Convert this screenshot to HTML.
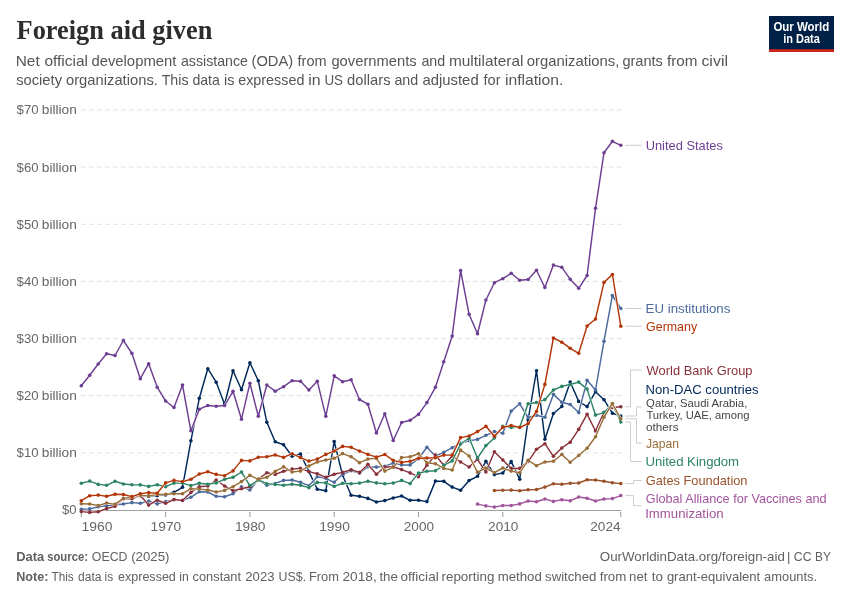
<!DOCTYPE html>
<html lang="en"><head><meta charset="utf-8"><title>Foreign aid given</title>
<style>
html,body{margin:0;padding:0;background:#fff;}
body{width:850px;height:600px;overflow:hidden;font-family:"Liberation Sans",sans-serif;}
svg{display:block;}
svg text{font-family:"Liberation Sans",sans-serif;}
</style></head>
<body>
<svg width="850" height="600" viewBox="0 0 850 600">
<rect width="850" height="600" fill="#fff"/>
<rect x="769" y="16" width="65" height="36" fill="#002147"/>
<rect x="769" y="49.2" width="65" height="2.8" fill="#ce261e"/>
<g stroke="#ddd" stroke-width="1" stroke-dasharray="4.2,3.8"><line x1="81.3" x2="621.3" y1="452.9" y2="452.9"/><line x1="81.3" x2="621.3" y1="395.7" y2="395.7"/><line x1="81.3" x2="621.3" y1="338.6" y2="338.6"/><line x1="81.3" x2="621.3" y1="281.4" y2="281.4"/><line x1="81.3" x2="621.3" y1="224.3" y2="224.3"/><line x1="81.3" x2="621.3" y1="167.2" y2="167.2"/><line x1="81.3" x2="621.3" y1="110.0" y2="110.0"/></g>
<line x1="81.3" x2="621.3" y1="510.5" y2="510.5" stroke="#a0a0a0" stroke-width="1"/>
<g stroke="#999" stroke-width="1"><line x1="81.3" x2="81.3" y1="512" y2="517"/><line x1="165.6" x2="165.6" y1="512" y2="517"/><line x1="249.9" x2="249.9" y1="512" y2="517"/><line x1="334.2" x2="334.2" y1="512" y2="517"/><line x1="418.5" x2="418.5" y1="512" y2="517"/><line x1="502.8" x2="502.8" y1="512" y2="517"/><line x1="620.8" x2="620.8" y1="512" y2="517"/></g>
<g fill="#A2559C" stroke="#A2559C"><polyline fill="none" stroke="#fff" stroke-width="2.45" stroke-linejoin="round" stroke-linecap="round" points="477.5,504.1 485.9,505.9 494.4,507.1 502.8,505.5 511.2,505.5 519.7,503.9 528.1,501.0 536.5,501.8 544.9,499.0 553.4,501.4 561.8,499.8 570.2,500.8 578.7,497.0 587.1,498.2 595.5,501.0 604.0,499.0 612.4,498.6 620.8,495.6"/><polyline fill="none" stroke-width="1.45" stroke-linejoin="round" stroke-linecap="round" points="477.5,504.1 485.9,505.9 494.4,507.1 502.8,505.5 511.2,505.5 519.7,503.9 528.1,501.0 536.5,501.8 544.9,499.0 553.4,501.4 561.8,499.8 570.2,500.8 578.7,497.0 587.1,498.2 595.5,501.0 604.0,499.0 612.4,498.6 620.8,495.6"/><g stroke="none"><circle cx="477.5" cy="504.1" r="1.8"/><circle cx="485.9" cy="505.9" r="1.8"/><circle cx="494.4" cy="507.1" r="1.8"/><circle cx="502.8" cy="505.5" r="1.8"/><circle cx="511.2" cy="505.5" r="1.8"/><circle cx="519.7" cy="503.9" r="1.8"/><circle cx="528.1" cy="501.0" r="1.8"/><circle cx="536.5" cy="501.8" r="1.8"/><circle cx="544.9" cy="499.0" r="1.8"/><circle cx="553.4" cy="501.4" r="1.8"/><circle cx="561.8" cy="499.8" r="1.8"/><circle cx="570.2" cy="500.8" r="1.8"/><circle cx="578.7" cy="497.0" r="1.8"/><circle cx="587.1" cy="498.2" r="1.8"/><circle cx="595.5" cy="501.0" r="1.8"/><circle cx="604.0" cy="499.0" r="1.8"/><circle cx="612.4" cy="498.6" r="1.8"/><circle cx="620.8" cy="495.6" r="1.8"/></g></g>
<g fill="#9A5129" stroke="#9A5129"><polyline fill="none" stroke="#fff" stroke-width="2.45" stroke-linejoin="round" stroke-linecap="round" points="494.4,490.5 502.8,490.3 511.2,490.1 519.7,490.7 528.1,489.7 536.5,489.5 544.9,487.1 553.4,483.8 561.8,484.2 570.2,483.2 578.7,483.0 587.1,479.8 595.5,480.0 604.0,481.2 612.4,482.8 620.8,483.6"/><polyline fill="none" stroke-width="1.45" stroke-linejoin="round" stroke-linecap="round" points="494.4,490.5 502.8,490.3 511.2,490.1 519.7,490.7 528.1,489.7 536.5,489.5 544.9,487.1 553.4,483.8 561.8,484.2 570.2,483.2 578.7,483.0 587.1,479.8 595.5,480.0 604.0,481.2 612.4,482.8 620.8,483.6"/><g stroke="none"><circle cx="494.4" cy="490.5" r="1.8"/><circle cx="502.8" cy="490.3" r="1.8"/><circle cx="511.2" cy="490.1" r="1.8"/><circle cx="519.7" cy="490.7" r="1.8"/><circle cx="528.1" cy="489.7" r="1.8"/><circle cx="536.5" cy="489.5" r="1.8"/><circle cx="544.9" cy="487.1" r="1.8"/><circle cx="553.4" cy="483.8" r="1.8"/><circle cx="561.8" cy="484.2" r="1.8"/><circle cx="570.2" cy="483.2" r="1.8"/><circle cx="578.7" cy="483.0" r="1.8"/><circle cx="587.1" cy="479.8" r="1.8"/><circle cx="595.5" cy="480.0" r="1.8"/><circle cx="604.0" cy="481.2" r="1.8"/><circle cx="612.4" cy="482.8" r="1.8"/><circle cx="620.8" cy="483.6" r="1.8"/></g></g>
<g fill="#00295B" stroke="#00295B"><polyline fill="none" stroke="#fff" stroke-width="2.45" stroke-linejoin="round" stroke-linecap="round" points="131.9,497.0 140.3,496.0 148.7,496.3 157.2,495.6 165.6,495.0 174.0,492.3 182.5,487.3 190.9,440.8 199.3,398.3 207.8,368.7 216.2,382.2 224.6,404.2 233.0,370.8 241.5,389.7 249.9,362.7 258.3,380.8 266.8,422.2 275.2,441.7 283.6,444.8 292.1,456.3 300.5,454.0 308.9,471.6 317.3,489.3 325.8,490.7 334.2,441.5 342.6,475.3 351.1,495.3 359.5,496.3 367.9,498.4 376.4,502.0 384.8,500.6 393.2,498.0 401.6,496.0 410.1,500.3 418.5,500.3 426.9,501.6 435.4,481.1 443.8,481.3 452.2,487.1 460.6,490.3 469.1,480.5 477.5,476.3 485.9,461.3 494.4,474.6 502.8,473.0 511.2,461.6 519.7,479.2 528.1,420.0 536.5,370.7 544.9,439.3 553.4,413.5 561.8,406.5 570.2,382.0 578.7,401.4 587.1,406.6 595.5,391.7 604.0,399.7 612.4,413.2 620.8,416.0"/><polyline fill="none" stroke-width="1.45" stroke-linejoin="round" stroke-linecap="round" points="131.9,497.0 140.3,496.0 148.7,496.3 157.2,495.6 165.6,495.0 174.0,492.3 182.5,487.3 190.9,440.8 199.3,398.3 207.8,368.7 216.2,382.2 224.6,404.2 233.0,370.8 241.5,389.7 249.9,362.7 258.3,380.8 266.8,422.2 275.2,441.7 283.6,444.8 292.1,456.3 300.5,454.0 308.9,471.6 317.3,489.3 325.8,490.7 334.2,441.5 342.6,475.3 351.1,495.3 359.5,496.3 367.9,498.4 376.4,502.0 384.8,500.6 393.2,498.0 401.6,496.0 410.1,500.3 418.5,500.3 426.9,501.6 435.4,481.1 443.8,481.3 452.2,487.1 460.6,490.3 469.1,480.5 477.5,476.3 485.9,461.3 494.4,474.6 502.8,473.0 511.2,461.6 519.7,479.2 528.1,420.0 536.5,370.7 544.9,439.3 553.4,413.5 561.8,406.5 570.2,382.0 578.7,401.4 587.1,406.6 595.5,391.7 604.0,399.7 612.4,413.2 620.8,416.0"/><g stroke="none"><circle cx="131.9" cy="497.0" r="1.8"/><circle cx="140.3" cy="496.0" r="1.8"/><circle cx="148.7" cy="496.3" r="1.8"/><circle cx="157.2" cy="495.6" r="1.8"/><circle cx="165.6" cy="495.0" r="1.8"/><circle cx="174.0" cy="492.3" r="1.8"/><circle cx="182.5" cy="487.3" r="1.8"/><circle cx="190.9" cy="440.8" r="1.8"/><circle cx="199.3" cy="398.3" r="1.8"/><circle cx="207.8" cy="368.7" r="1.8"/><circle cx="216.2" cy="382.2" r="1.8"/><circle cx="224.6" cy="404.2" r="1.8"/><circle cx="233.0" cy="370.8" r="1.8"/><circle cx="241.5" cy="389.7" r="1.8"/><circle cx="249.9" cy="362.7" r="1.8"/><circle cx="258.3" cy="380.8" r="1.8"/><circle cx="266.8" cy="422.2" r="1.8"/><circle cx="275.2" cy="441.7" r="1.8"/><circle cx="283.6" cy="444.8" r="1.8"/><circle cx="292.1" cy="456.3" r="1.8"/><circle cx="300.5" cy="454.0" r="1.8"/><circle cx="308.9" cy="471.6" r="1.8"/><circle cx="317.3" cy="489.3" r="1.8"/><circle cx="325.8" cy="490.7" r="1.8"/><circle cx="334.2" cy="441.5" r="1.8"/><circle cx="342.6" cy="475.3" r="1.8"/><circle cx="351.1" cy="495.3" r="1.8"/><circle cx="359.5" cy="496.3" r="1.8"/><circle cx="367.9" cy="498.4" r="1.8"/><circle cx="376.4" cy="502.0" r="1.8"/><circle cx="384.8" cy="500.6" r="1.8"/><circle cx="393.2" cy="498.0" r="1.8"/><circle cx="401.6" cy="496.0" r="1.8"/><circle cx="410.1" cy="500.3" r="1.8"/><circle cx="418.5" cy="500.3" r="1.8"/><circle cx="426.9" cy="501.6" r="1.8"/><circle cx="435.4" cy="481.1" r="1.8"/><circle cx="443.8" cy="481.3" r="1.8"/><circle cx="452.2" cy="487.1" r="1.8"/><circle cx="460.6" cy="490.3" r="1.8"/><circle cx="469.1" cy="480.5" r="1.8"/><circle cx="477.5" cy="476.3" r="1.8"/><circle cx="485.9" cy="461.3" r="1.8"/><circle cx="494.4" cy="474.6" r="1.8"/><circle cx="502.8" cy="473.0" r="1.8"/><circle cx="511.2" cy="461.6" r="1.8"/><circle cx="519.7" cy="479.2" r="1.8"/><circle cx="528.1" cy="420.0" r="1.8"/><circle cx="536.5" cy="370.7" r="1.8"/><circle cx="544.9" cy="439.3" r="1.8"/><circle cx="553.4" cy="413.5" r="1.8"/><circle cx="561.8" cy="406.5" r="1.8"/><circle cx="570.2" cy="382.0" r="1.8"/><circle cx="578.7" cy="401.4" r="1.8"/><circle cx="587.1" cy="406.6" r="1.8"/><circle cx="595.5" cy="391.7" r="1.8"/><circle cx="604.0" cy="399.7" r="1.8"/><circle cx="612.4" cy="413.2" r="1.8"/><circle cx="620.8" cy="416.0" r="1.8"/></g></g>
<g fill="#4C6A9C" stroke="#4C6A9C"><polyline fill="none" stroke="#fff" stroke-width="2.45" stroke-linejoin="round" stroke-linecap="round" points="81.3,509.3 89.7,508.9 98.2,506.7 106.6,505.8 115.0,505.0 123.4,504.0 131.9,502.6 140.3,503.2 148.7,501.1 157.2,503.9 165.6,501.6 174.0,499.8 182.5,500.3 190.9,497.3 199.3,491.7 207.8,492.0 216.2,496.3 224.6,496.7 233.0,493.7 241.5,486.7 249.9,490.0 258.3,479.7 266.8,485.3 275.2,483.5 283.6,480.4 292.1,480.0 300.5,482.3 308.9,485.7 317.3,476.7 325.8,478.3 334.2,482.3 342.6,474.3 351.1,470.7 359.5,473.1 367.9,466.7 376.4,467.1 384.8,466.2 393.2,463.1 401.6,464.9 410.1,464.9 418.5,458.7 426.9,447.3 435.4,456.0 443.8,452.4 452.2,447.7 460.6,443.3 469.1,440.7 477.5,439.4 485.9,435.3 494.4,431.6 502.8,433.2 511.2,411.1 519.7,403.8 528.1,417.5 536.5,415.3 544.9,417.2 553.4,394.4 561.8,402.3 570.2,404.5 578.7,412.6 587.1,380.2 595.5,390.0 604.0,341.2 612.4,295.5 620.8,308.5"/><polyline fill="none" stroke-width="1.45" stroke-linejoin="round" stroke-linecap="round" points="81.3,509.3 89.7,508.9 98.2,506.7 106.6,505.8 115.0,505.0 123.4,504.0 131.9,502.6 140.3,503.2 148.7,501.1 157.2,503.9 165.6,501.6 174.0,499.8 182.5,500.3 190.9,497.3 199.3,491.7 207.8,492.0 216.2,496.3 224.6,496.7 233.0,493.7 241.5,486.7 249.9,490.0 258.3,479.7 266.8,485.3 275.2,483.5 283.6,480.4 292.1,480.0 300.5,482.3 308.9,485.7 317.3,476.7 325.8,478.3 334.2,482.3 342.6,474.3 351.1,470.7 359.5,473.1 367.9,466.7 376.4,467.1 384.8,466.2 393.2,463.1 401.6,464.9 410.1,464.9 418.5,458.7 426.9,447.3 435.4,456.0 443.8,452.4 452.2,447.7 460.6,443.3 469.1,440.7 477.5,439.4 485.9,435.3 494.4,431.6 502.8,433.2 511.2,411.1 519.7,403.8 528.1,417.5 536.5,415.3 544.9,417.2 553.4,394.4 561.8,402.3 570.2,404.5 578.7,412.6 587.1,380.2 595.5,390.0 604.0,341.2 612.4,295.5 620.8,308.5"/><g stroke="none"><circle cx="81.3" cy="509.3" r="1.8"/><circle cx="89.7" cy="508.9" r="1.8"/><circle cx="98.2" cy="506.7" r="1.8"/><circle cx="106.6" cy="505.8" r="1.8"/><circle cx="115.0" cy="505.0" r="1.8"/><circle cx="123.4" cy="504.0" r="1.8"/><circle cx="131.9" cy="502.6" r="1.8"/><circle cx="140.3" cy="503.2" r="1.8"/><circle cx="148.7" cy="501.1" r="1.8"/><circle cx="157.2" cy="503.9" r="1.8"/><circle cx="165.6" cy="501.6" r="1.8"/><circle cx="174.0" cy="499.8" r="1.8"/><circle cx="182.5" cy="500.3" r="1.8"/><circle cx="190.9" cy="497.3" r="1.8"/><circle cx="199.3" cy="491.7" r="1.8"/><circle cx="207.8" cy="492.0" r="1.8"/><circle cx="216.2" cy="496.3" r="1.8"/><circle cx="224.6" cy="496.7" r="1.8"/><circle cx="233.0" cy="493.7" r="1.8"/><circle cx="241.5" cy="486.7" r="1.8"/><circle cx="249.9" cy="490.0" r="1.8"/><circle cx="258.3" cy="479.7" r="1.8"/><circle cx="266.8" cy="485.3" r="1.8"/><circle cx="275.2" cy="483.5" r="1.8"/><circle cx="283.6" cy="480.4" r="1.8"/><circle cx="292.1" cy="480.0" r="1.8"/><circle cx="300.5" cy="482.3" r="1.8"/><circle cx="308.9" cy="485.7" r="1.8"/><circle cx="317.3" cy="476.7" r="1.8"/><circle cx="325.8" cy="478.3" r="1.8"/><circle cx="334.2" cy="482.3" r="1.8"/><circle cx="342.6" cy="474.3" r="1.8"/><circle cx="351.1" cy="470.7" r="1.8"/><circle cx="359.5" cy="473.1" r="1.8"/><circle cx="367.9" cy="466.7" r="1.8"/><circle cx="376.4" cy="467.1" r="1.8"/><circle cx="384.8" cy="466.2" r="1.8"/><circle cx="393.2" cy="463.1" r="1.8"/><circle cx="401.6" cy="464.9" r="1.8"/><circle cx="410.1" cy="464.9" r="1.8"/><circle cx="418.5" cy="458.7" r="1.8"/><circle cx="426.9" cy="447.3" r="1.8"/><circle cx="435.4" cy="456.0" r="1.8"/><circle cx="443.8" cy="452.4" r="1.8"/><circle cx="452.2" cy="447.7" r="1.8"/><circle cx="460.6" cy="443.3" r="1.8"/><circle cx="469.1" cy="440.7" r="1.8"/><circle cx="477.5" cy="439.4" r="1.8"/><circle cx="485.9" cy="435.3" r="1.8"/><circle cx="494.4" cy="431.6" r="1.8"/><circle cx="502.8" cy="433.2" r="1.8"/><circle cx="511.2" cy="411.1" r="1.8"/><circle cx="519.7" cy="403.8" r="1.8"/><circle cx="528.1" cy="417.5" r="1.8"/><circle cx="536.5" cy="415.3" r="1.8"/><circle cx="544.9" cy="417.2" r="1.8"/><circle cx="553.4" cy="394.4" r="1.8"/><circle cx="561.8" cy="402.3" r="1.8"/><circle cx="570.2" cy="404.5" r="1.8"/><circle cx="578.7" cy="412.6" r="1.8"/><circle cx="587.1" cy="380.2" r="1.8"/><circle cx="595.5" cy="390.0" r="1.8"/><circle cx="604.0" cy="341.2" r="1.8"/><circle cx="612.4" cy="295.5" r="1.8"/><circle cx="620.8" cy="308.5" r="1.8"/></g></g>
<g fill="#883039" stroke="#883039"><polyline fill="none" stroke="#fff" stroke-width="2.45" stroke-linejoin="round" stroke-linecap="round" points="81.3,511.6 89.7,512.4 98.2,511.7 106.6,508.6 115.0,506.2 123.4,498.8 131.9,498.8 140.3,495.6 148.7,505.1 157.2,500.2 165.6,503.3 174.0,499.5 182.5,500.5 190.9,492.4 199.3,486.7 207.8,486.0 216.2,480.0 224.6,486.0 233.0,490.7 241.5,488.7 249.9,486.7 258.3,479.3 266.8,472.7 275.2,474.4 283.6,471.2 292.1,469.1 300.5,468.3 308.9,471.6 317.3,473.7 325.8,477.3 334.2,474.3 342.6,472.4 351.1,469.7 359.5,472.4 367.9,464.4 376.4,474.3 384.8,467.0 393.2,466.7 401.6,469.6 410.1,472.9 418.5,476.7 426.9,465.3 435.4,455.1 443.8,465.3 452.2,456.0 460.6,462.0 469.1,467.0 477.5,459.3 485.9,472.0 494.4,451.7 502.8,460.0 511.2,468.4 519.7,468.4 528.1,461.6 536.5,449.3 544.9,443.7 553.4,456.3 561.8,448.0 570.2,442.2 578.7,429.3 587.1,414.2 595.5,431.0 604.0,412.3 612.4,407.5 620.8,406.8"/><polyline fill="none" stroke-width="1.45" stroke-linejoin="round" stroke-linecap="round" points="81.3,511.6 89.7,512.4 98.2,511.7 106.6,508.6 115.0,506.2 123.4,498.8 131.9,498.8 140.3,495.6 148.7,505.1 157.2,500.2 165.6,503.3 174.0,499.5 182.5,500.5 190.9,492.4 199.3,486.7 207.8,486.0 216.2,480.0 224.6,486.0 233.0,490.7 241.5,488.7 249.9,486.7 258.3,479.3 266.8,472.7 275.2,474.4 283.6,471.2 292.1,469.1 300.5,468.3 308.9,471.6 317.3,473.7 325.8,477.3 334.2,474.3 342.6,472.4 351.1,469.7 359.5,472.4 367.9,464.4 376.4,474.3 384.8,467.0 393.2,466.7 401.6,469.6 410.1,472.9 418.5,476.7 426.9,465.3 435.4,455.1 443.8,465.3 452.2,456.0 460.6,462.0 469.1,467.0 477.5,459.3 485.9,472.0 494.4,451.7 502.8,460.0 511.2,468.4 519.7,468.4 528.1,461.6 536.5,449.3 544.9,443.7 553.4,456.3 561.8,448.0 570.2,442.2 578.7,429.3 587.1,414.2 595.5,431.0 604.0,412.3 612.4,407.5 620.8,406.8"/><g stroke="none"><circle cx="81.3" cy="511.6" r="1.8"/><circle cx="89.7" cy="512.4" r="1.8"/><circle cx="98.2" cy="511.7" r="1.8"/><circle cx="106.6" cy="508.6" r="1.8"/><circle cx="115.0" cy="506.2" r="1.8"/><circle cx="123.4" cy="498.8" r="1.8"/><circle cx="131.9" cy="498.8" r="1.8"/><circle cx="140.3" cy="495.6" r="1.8"/><circle cx="148.7" cy="505.1" r="1.8"/><circle cx="157.2" cy="500.2" r="1.8"/><circle cx="165.6" cy="503.3" r="1.8"/><circle cx="174.0" cy="499.5" r="1.8"/><circle cx="182.5" cy="500.5" r="1.8"/><circle cx="190.9" cy="492.4" r="1.8"/><circle cx="199.3" cy="486.7" r="1.8"/><circle cx="207.8" cy="486.0" r="1.8"/><circle cx="216.2" cy="480.0" r="1.8"/><circle cx="224.6" cy="486.0" r="1.8"/><circle cx="233.0" cy="490.7" r="1.8"/><circle cx="241.5" cy="488.7" r="1.8"/><circle cx="249.9" cy="486.7" r="1.8"/><circle cx="258.3" cy="479.3" r="1.8"/><circle cx="266.8" cy="472.7" r="1.8"/><circle cx="275.2" cy="474.4" r="1.8"/><circle cx="283.6" cy="471.2" r="1.8"/><circle cx="292.1" cy="469.1" r="1.8"/><circle cx="300.5" cy="468.3" r="1.8"/><circle cx="308.9" cy="471.6" r="1.8"/><circle cx="317.3" cy="473.7" r="1.8"/><circle cx="325.8" cy="477.3" r="1.8"/><circle cx="334.2" cy="474.3" r="1.8"/><circle cx="342.6" cy="472.4" r="1.8"/><circle cx="351.1" cy="469.7" r="1.8"/><circle cx="359.5" cy="472.4" r="1.8"/><circle cx="367.9" cy="464.4" r="1.8"/><circle cx="376.4" cy="474.3" r="1.8"/><circle cx="384.8" cy="467.0" r="1.8"/><circle cx="393.2" cy="466.7" r="1.8"/><circle cx="401.6" cy="469.6" r="1.8"/><circle cx="410.1" cy="472.9" r="1.8"/><circle cx="418.5" cy="476.7" r="1.8"/><circle cx="426.9" cy="465.3" r="1.8"/><circle cx="435.4" cy="455.1" r="1.8"/><circle cx="443.8" cy="465.3" r="1.8"/><circle cx="452.2" cy="456.0" r="1.8"/><circle cx="460.6" cy="462.0" r="1.8"/><circle cx="469.1" cy="467.0" r="1.8"/><circle cx="477.5" cy="459.3" r="1.8"/><circle cx="485.9" cy="472.0" r="1.8"/><circle cx="494.4" cy="451.7" r="1.8"/><circle cx="502.8" cy="460.0" r="1.8"/><circle cx="511.2" cy="468.4" r="1.8"/><circle cx="519.7" cy="468.4" r="1.8"/><circle cx="528.1" cy="461.6" r="1.8"/><circle cx="536.5" cy="449.3" r="1.8"/><circle cx="544.9" cy="443.7" r="1.8"/><circle cx="553.4" cy="456.3" r="1.8"/><circle cx="561.8" cy="448.0" r="1.8"/><circle cx="570.2" cy="442.2" r="1.8"/><circle cx="578.7" cy="429.3" r="1.8"/><circle cx="587.1" cy="414.2" r="1.8"/><circle cx="595.5" cy="431.0" r="1.8"/><circle cx="604.0" cy="412.3" r="1.8"/><circle cx="612.4" cy="407.5" r="1.8"/><circle cx="620.8" cy="406.8" r="1.8"/></g></g>
<g fill="#2C8465" stroke="#2C8465"><polyline fill="none" stroke="#fff" stroke-width="2.45" stroke-linejoin="round" stroke-linecap="round" points="81.3,483.3 89.7,481.1 98.2,484.4 106.6,485.3 115.0,481.3 123.4,484.0 131.9,484.7 140.3,484.9 148.7,486.4 157.2,484.7 165.6,486.7 174.0,483.1 182.5,483.1 190.9,485.6 199.3,483.3 207.8,484.3 216.2,482.9 224.6,479.3 233.0,477.3 241.5,472.0 249.9,485.6 258.3,480.0 266.8,483.7 275.2,484.4 283.6,485.3 292.1,484.3 300.5,485.3 308.9,487.6 317.3,482.4 325.8,482.9 334.2,486.4 342.6,483.3 351.1,483.7 359.5,483.1 367.9,481.3 376.4,482.9 384.8,483.7 393.2,483.1 401.6,480.4 410.1,483.6 418.5,473.1 426.9,471.3 435.4,470.7 443.8,465.3 452.2,460.9 460.6,444.0 469.1,438.0 477.5,458.0 485.9,445.6 494.4,438.0 502.8,426.3 511.2,427.5 519.7,427.2 528.1,403.7 536.5,402.5 544.9,399.6 553.4,390.0 561.8,386.4 570.2,384.5 578.7,382.1 587.1,389.1 595.5,415.1 604.0,412.6 612.4,404.0 620.8,422.0"/><polyline fill="none" stroke-width="1.45" stroke-linejoin="round" stroke-linecap="round" points="81.3,483.3 89.7,481.1 98.2,484.4 106.6,485.3 115.0,481.3 123.4,484.0 131.9,484.7 140.3,484.9 148.7,486.4 157.2,484.7 165.6,486.7 174.0,483.1 182.5,483.1 190.9,485.6 199.3,483.3 207.8,484.3 216.2,482.9 224.6,479.3 233.0,477.3 241.5,472.0 249.9,485.6 258.3,480.0 266.8,483.7 275.2,484.4 283.6,485.3 292.1,484.3 300.5,485.3 308.9,487.6 317.3,482.4 325.8,482.9 334.2,486.4 342.6,483.3 351.1,483.7 359.5,483.1 367.9,481.3 376.4,482.9 384.8,483.7 393.2,483.1 401.6,480.4 410.1,483.6 418.5,473.1 426.9,471.3 435.4,470.7 443.8,465.3 452.2,460.9 460.6,444.0 469.1,438.0 477.5,458.0 485.9,445.6 494.4,438.0 502.8,426.3 511.2,427.5 519.7,427.2 528.1,403.7 536.5,402.5 544.9,399.6 553.4,390.0 561.8,386.4 570.2,384.5 578.7,382.1 587.1,389.1 595.5,415.1 604.0,412.6 612.4,404.0 620.8,422.0"/><g stroke="none"><circle cx="81.3" cy="483.3" r="1.8"/><circle cx="89.7" cy="481.1" r="1.8"/><circle cx="98.2" cy="484.4" r="1.8"/><circle cx="106.6" cy="485.3" r="1.8"/><circle cx="115.0" cy="481.3" r="1.8"/><circle cx="123.4" cy="484.0" r="1.8"/><circle cx="131.9" cy="484.7" r="1.8"/><circle cx="140.3" cy="484.9" r="1.8"/><circle cx="148.7" cy="486.4" r="1.8"/><circle cx="157.2" cy="484.7" r="1.8"/><circle cx="165.6" cy="486.7" r="1.8"/><circle cx="174.0" cy="483.1" r="1.8"/><circle cx="182.5" cy="483.1" r="1.8"/><circle cx="190.9" cy="485.6" r="1.8"/><circle cx="199.3" cy="483.3" r="1.8"/><circle cx="207.8" cy="484.3" r="1.8"/><circle cx="216.2" cy="482.9" r="1.8"/><circle cx="224.6" cy="479.3" r="1.8"/><circle cx="233.0" cy="477.3" r="1.8"/><circle cx="241.5" cy="472.0" r="1.8"/><circle cx="249.9" cy="485.6" r="1.8"/><circle cx="258.3" cy="480.0" r="1.8"/><circle cx="266.8" cy="483.7" r="1.8"/><circle cx="275.2" cy="484.4" r="1.8"/><circle cx="283.6" cy="485.3" r="1.8"/><circle cx="292.1" cy="484.3" r="1.8"/><circle cx="300.5" cy="485.3" r="1.8"/><circle cx="308.9" cy="487.6" r="1.8"/><circle cx="317.3" cy="482.4" r="1.8"/><circle cx="325.8" cy="482.9" r="1.8"/><circle cx="334.2" cy="486.4" r="1.8"/><circle cx="342.6" cy="483.3" r="1.8"/><circle cx="351.1" cy="483.7" r="1.8"/><circle cx="359.5" cy="483.1" r="1.8"/><circle cx="367.9" cy="481.3" r="1.8"/><circle cx="376.4" cy="482.9" r="1.8"/><circle cx="384.8" cy="483.7" r="1.8"/><circle cx="393.2" cy="483.1" r="1.8"/><circle cx="401.6" cy="480.4" r="1.8"/><circle cx="410.1" cy="483.6" r="1.8"/><circle cx="418.5" cy="473.1" r="1.8"/><circle cx="426.9" cy="471.3" r="1.8"/><circle cx="435.4" cy="470.7" r="1.8"/><circle cx="443.8" cy="465.3" r="1.8"/><circle cx="452.2" cy="460.9" r="1.8"/><circle cx="460.6" cy="444.0" r="1.8"/><circle cx="469.1" cy="438.0" r="1.8"/><circle cx="477.5" cy="458.0" r="1.8"/><circle cx="485.9" cy="445.6" r="1.8"/><circle cx="494.4" cy="438.0" r="1.8"/><circle cx="502.8" cy="426.3" r="1.8"/><circle cx="511.2" cy="427.5" r="1.8"/><circle cx="519.7" cy="427.2" r="1.8"/><circle cx="528.1" cy="403.7" r="1.8"/><circle cx="536.5" cy="402.5" r="1.8"/><circle cx="544.9" cy="399.6" r="1.8"/><circle cx="553.4" cy="390.0" r="1.8"/><circle cx="561.8" cy="386.4" r="1.8"/><circle cx="570.2" cy="384.5" r="1.8"/><circle cx="578.7" cy="382.1" r="1.8"/><circle cx="587.1" cy="389.1" r="1.8"/><circle cx="595.5" cy="415.1" r="1.8"/><circle cx="604.0" cy="412.6" r="1.8"/><circle cx="612.4" cy="404.0" r="1.8"/><circle cx="620.8" cy="422.0" r="1.8"/></g></g>
<g fill="#996D39" stroke="#996D39"><polyline fill="none" stroke="#fff" stroke-width="2.45" stroke-linejoin="round" stroke-linecap="round" points="81.3,503.7 89.7,504.0 98.2,505.6 106.6,503.0 115.0,504.4 123.4,498.4 131.9,497.3 140.3,495.2 148.7,495.9 157.2,494.5 165.6,494.2 174.0,493.7 182.5,493.7 190.9,488.7 199.3,489.1 207.8,490.0 216.2,492.0 224.6,490.4 233.0,486.7 241.5,481.6 249.9,475.3 258.3,479.3 266.8,477.3 275.2,471.4 283.6,466.8 292.1,472.0 300.5,471.1 308.9,466.0 317.3,462.0 325.8,460.0 334.2,458.3 342.6,453.6 351.1,456.7 359.5,462.7 367.9,459.1 376.4,458.3 384.8,471.1 393.2,467.3 401.6,457.6 410.1,456.7 418.5,453.7 426.9,462.7 435.4,463.7 443.8,468.4 452.2,470.0 460.6,450.0 469.1,456.0 477.5,472.2 485.9,468.0 494.4,472.7 502.8,468.0 511.2,471.1 519.7,472.7 528.1,460.4 536.5,465.7 544.9,462.0 553.4,461.3 561.8,454.5 570.2,462.2 578.7,455.5 587.1,448.3 595.5,436.8 604.0,417.2 612.4,403.5 620.8,418.8"/><polyline fill="none" stroke-width="1.45" stroke-linejoin="round" stroke-linecap="round" points="81.3,503.7 89.7,504.0 98.2,505.6 106.6,503.0 115.0,504.4 123.4,498.4 131.9,497.3 140.3,495.2 148.7,495.9 157.2,494.5 165.6,494.2 174.0,493.7 182.5,493.7 190.9,488.7 199.3,489.1 207.8,490.0 216.2,492.0 224.6,490.4 233.0,486.7 241.5,481.6 249.9,475.3 258.3,479.3 266.8,477.3 275.2,471.4 283.6,466.8 292.1,472.0 300.5,471.1 308.9,466.0 317.3,462.0 325.8,460.0 334.2,458.3 342.6,453.6 351.1,456.7 359.5,462.7 367.9,459.1 376.4,458.3 384.8,471.1 393.2,467.3 401.6,457.6 410.1,456.7 418.5,453.7 426.9,462.7 435.4,463.7 443.8,468.4 452.2,470.0 460.6,450.0 469.1,456.0 477.5,472.2 485.9,468.0 494.4,472.7 502.8,468.0 511.2,471.1 519.7,472.7 528.1,460.4 536.5,465.7 544.9,462.0 553.4,461.3 561.8,454.5 570.2,462.2 578.7,455.5 587.1,448.3 595.5,436.8 604.0,417.2 612.4,403.5 620.8,418.8"/><g stroke="none"><circle cx="81.3" cy="503.7" r="1.8"/><circle cx="89.7" cy="504.0" r="1.8"/><circle cx="98.2" cy="505.6" r="1.8"/><circle cx="106.6" cy="503.0" r="1.8"/><circle cx="115.0" cy="504.4" r="1.8"/><circle cx="123.4" cy="498.4" r="1.8"/><circle cx="131.9" cy="497.3" r="1.8"/><circle cx="140.3" cy="495.2" r="1.8"/><circle cx="148.7" cy="495.9" r="1.8"/><circle cx="157.2" cy="494.5" r="1.8"/><circle cx="165.6" cy="494.2" r="1.8"/><circle cx="174.0" cy="493.7" r="1.8"/><circle cx="182.5" cy="493.7" r="1.8"/><circle cx="190.9" cy="488.7" r="1.8"/><circle cx="199.3" cy="489.1" r="1.8"/><circle cx="207.8" cy="490.0" r="1.8"/><circle cx="216.2" cy="492.0" r="1.8"/><circle cx="224.6" cy="490.4" r="1.8"/><circle cx="233.0" cy="486.7" r="1.8"/><circle cx="241.5" cy="481.6" r="1.8"/><circle cx="249.9" cy="475.3" r="1.8"/><circle cx="258.3" cy="479.3" r="1.8"/><circle cx="266.8" cy="477.3" r="1.8"/><circle cx="275.2" cy="471.4" r="1.8"/><circle cx="283.6" cy="466.8" r="1.8"/><circle cx="292.1" cy="472.0" r="1.8"/><circle cx="300.5" cy="471.1" r="1.8"/><circle cx="308.9" cy="466.0" r="1.8"/><circle cx="317.3" cy="462.0" r="1.8"/><circle cx="325.8" cy="460.0" r="1.8"/><circle cx="334.2" cy="458.3" r="1.8"/><circle cx="342.6" cy="453.6" r="1.8"/><circle cx="351.1" cy="456.7" r="1.8"/><circle cx="359.5" cy="462.7" r="1.8"/><circle cx="367.9" cy="459.1" r="1.8"/><circle cx="376.4" cy="458.3" r="1.8"/><circle cx="384.8" cy="471.1" r="1.8"/><circle cx="393.2" cy="467.3" r="1.8"/><circle cx="401.6" cy="457.6" r="1.8"/><circle cx="410.1" cy="456.7" r="1.8"/><circle cx="418.5" cy="453.7" r="1.8"/><circle cx="426.9" cy="462.7" r="1.8"/><circle cx="435.4" cy="463.7" r="1.8"/><circle cx="443.8" cy="468.4" r="1.8"/><circle cx="452.2" cy="470.0" r="1.8"/><circle cx="460.6" cy="450.0" r="1.8"/><circle cx="469.1" cy="456.0" r="1.8"/><circle cx="477.5" cy="472.2" r="1.8"/><circle cx="485.9" cy="468.0" r="1.8"/><circle cx="494.4" cy="472.7" r="1.8"/><circle cx="502.8" cy="468.0" r="1.8"/><circle cx="511.2" cy="471.1" r="1.8"/><circle cx="519.7" cy="472.7" r="1.8"/><circle cx="528.1" cy="460.4" r="1.8"/><circle cx="536.5" cy="465.7" r="1.8"/><circle cx="544.9" cy="462.0" r="1.8"/><circle cx="553.4" cy="461.3" r="1.8"/><circle cx="561.8" cy="454.5" r="1.8"/><circle cx="570.2" cy="462.2" r="1.8"/><circle cx="578.7" cy="455.5" r="1.8"/><circle cx="587.1" cy="448.3" r="1.8"/><circle cx="595.5" cy="436.8" r="1.8"/><circle cx="604.0" cy="417.2" r="1.8"/><circle cx="612.4" cy="403.5" r="1.8"/><circle cx="620.8" cy="418.8" r="1.8"/></g></g>
<g fill="#B13507" stroke="#B13507"><polyline fill="none" stroke="#fff" stroke-width="2.45" stroke-linejoin="round" stroke-linecap="round" points="81.3,500.7 89.7,495.7 98.2,495.1 106.6,496.3 115.0,494.2 123.4,494.5 131.9,496.6 140.3,493.8 148.7,492.6 157.2,493.3 165.6,482.9 174.0,480.4 182.5,481.6 190.9,479.3 199.3,474.0 207.8,471.7 216.2,474.4 224.6,475.7 233.0,470.9 241.5,460.4 249.9,460.9 258.3,457.3 266.8,456.7 275.2,455.0 283.6,457.4 292.1,453.7 300.5,457.6 308.9,461.1 317.3,459.1 325.8,454.4 334.2,451.1 342.6,446.4 351.1,447.3 359.5,451.1 367.9,454.4 376.4,457.1 384.8,454.5 393.2,460.4 401.6,462.4 410.1,461.3 418.5,458.3 426.9,458.0 435.4,457.7 443.8,455.1 452.2,455.1 460.6,437.6 469.1,436.0 477.5,431.6 485.9,426.3 494.4,436.3 502.8,427.2 511.2,425.5 519.7,427.5 528.1,423.6 536.5,411.5 544.9,384.4 553.4,338.0 561.8,342.2 570.2,348.3 578.7,353.3 587.1,326.0 595.5,319.0 604.0,282.4 612.4,274.5 620.8,326.2"/><polyline fill="none" stroke-width="1.45" stroke-linejoin="round" stroke-linecap="round" points="81.3,500.7 89.7,495.7 98.2,495.1 106.6,496.3 115.0,494.2 123.4,494.5 131.9,496.6 140.3,493.8 148.7,492.6 157.2,493.3 165.6,482.9 174.0,480.4 182.5,481.6 190.9,479.3 199.3,474.0 207.8,471.7 216.2,474.4 224.6,475.7 233.0,470.9 241.5,460.4 249.9,460.9 258.3,457.3 266.8,456.7 275.2,455.0 283.6,457.4 292.1,453.7 300.5,457.6 308.9,461.1 317.3,459.1 325.8,454.4 334.2,451.1 342.6,446.4 351.1,447.3 359.5,451.1 367.9,454.4 376.4,457.1 384.8,454.5 393.2,460.4 401.6,462.4 410.1,461.3 418.5,458.3 426.9,458.0 435.4,457.7 443.8,455.1 452.2,455.1 460.6,437.6 469.1,436.0 477.5,431.6 485.9,426.3 494.4,436.3 502.8,427.2 511.2,425.5 519.7,427.5 528.1,423.6 536.5,411.5 544.9,384.4 553.4,338.0 561.8,342.2 570.2,348.3 578.7,353.3 587.1,326.0 595.5,319.0 604.0,282.4 612.4,274.5 620.8,326.2"/><g stroke="none"><circle cx="81.3" cy="500.7" r="1.8"/><circle cx="89.7" cy="495.7" r="1.8"/><circle cx="98.2" cy="495.1" r="1.8"/><circle cx="106.6" cy="496.3" r="1.8"/><circle cx="115.0" cy="494.2" r="1.8"/><circle cx="123.4" cy="494.5" r="1.8"/><circle cx="131.9" cy="496.6" r="1.8"/><circle cx="140.3" cy="493.8" r="1.8"/><circle cx="148.7" cy="492.6" r="1.8"/><circle cx="157.2" cy="493.3" r="1.8"/><circle cx="165.6" cy="482.9" r="1.8"/><circle cx="174.0" cy="480.4" r="1.8"/><circle cx="182.5" cy="481.6" r="1.8"/><circle cx="190.9" cy="479.3" r="1.8"/><circle cx="199.3" cy="474.0" r="1.8"/><circle cx="207.8" cy="471.7" r="1.8"/><circle cx="216.2" cy="474.4" r="1.8"/><circle cx="224.6" cy="475.7" r="1.8"/><circle cx="233.0" cy="470.9" r="1.8"/><circle cx="241.5" cy="460.4" r="1.8"/><circle cx="249.9" cy="460.9" r="1.8"/><circle cx="258.3" cy="457.3" r="1.8"/><circle cx="266.8" cy="456.7" r="1.8"/><circle cx="275.2" cy="455.0" r="1.8"/><circle cx="283.6" cy="457.4" r="1.8"/><circle cx="292.1" cy="453.7" r="1.8"/><circle cx="300.5" cy="457.6" r="1.8"/><circle cx="308.9" cy="461.1" r="1.8"/><circle cx="317.3" cy="459.1" r="1.8"/><circle cx="325.8" cy="454.4" r="1.8"/><circle cx="334.2" cy="451.1" r="1.8"/><circle cx="342.6" cy="446.4" r="1.8"/><circle cx="351.1" cy="447.3" r="1.8"/><circle cx="359.5" cy="451.1" r="1.8"/><circle cx="367.9" cy="454.4" r="1.8"/><circle cx="376.4" cy="457.1" r="1.8"/><circle cx="384.8" cy="454.5" r="1.8"/><circle cx="393.2" cy="460.4" r="1.8"/><circle cx="401.6" cy="462.4" r="1.8"/><circle cx="410.1" cy="461.3" r="1.8"/><circle cx="418.5" cy="458.3" r="1.8"/><circle cx="426.9" cy="458.0" r="1.8"/><circle cx="435.4" cy="457.7" r="1.8"/><circle cx="443.8" cy="455.1" r="1.8"/><circle cx="452.2" cy="455.1" r="1.8"/><circle cx="460.6" cy="437.6" r="1.8"/><circle cx="469.1" cy="436.0" r="1.8"/><circle cx="477.5" cy="431.6" r="1.8"/><circle cx="485.9" cy="426.3" r="1.8"/><circle cx="494.4" cy="436.3" r="1.8"/><circle cx="502.8" cy="427.2" r="1.8"/><circle cx="511.2" cy="425.5" r="1.8"/><circle cx="519.7" cy="427.5" r="1.8"/><circle cx="528.1" cy="423.6" r="1.8"/><circle cx="536.5" cy="411.5" r="1.8"/><circle cx="544.9" cy="384.4" r="1.8"/><circle cx="553.4" cy="338.0" r="1.8"/><circle cx="561.8" cy="342.2" r="1.8"/><circle cx="570.2" cy="348.3" r="1.8"/><circle cx="578.7" cy="353.3" r="1.8"/><circle cx="587.1" cy="326.0" r="1.8"/><circle cx="595.5" cy="319.0" r="1.8"/><circle cx="604.0" cy="282.4" r="1.8"/><circle cx="612.4" cy="274.5" r="1.8"/><circle cx="620.8" cy="326.2" r="1.8"/></g></g>
<g fill="#6D3E91" stroke="#6D3E91"><polyline fill="none" stroke="#fff" stroke-width="2.45" stroke-linejoin="round" stroke-linecap="round" points="81.3,385.8 89.7,375.2 98.2,364.0 106.6,353.8 115.0,355.5 123.4,340.5 131.9,353.3 140.3,378.7 148.7,363.7 157.2,387.2 165.6,401.0 174.0,407.5 182.5,385.0 190.9,430.8 199.3,409.2 207.8,405.5 216.2,406.3 224.6,405.5 233.0,391.3 241.5,419.2 249.9,383.3 258.3,416.2 266.8,385.0 275.2,391.2 283.6,386.7 292.1,380.7 300.5,381.2 308.9,390.0 317.3,381.2 325.8,416.3 334.2,375.8 342.6,381.7 351.1,379.7 359.5,399.5 367.9,404.2 376.4,433.0 384.8,413.8 393.2,440.5 401.6,422.5 410.1,420.3 418.5,414.4 426.9,402.6 435.4,387.3 443.8,361.8 452.2,336.1 460.6,270.5 469.1,314.3 477.5,333.7 485.9,300.0 494.4,282.7 502.8,278.7 511.2,273.3 519.7,280.3 528.1,279.5 536.5,270.2 544.9,287.5 553.4,265.1 561.8,267.3 570.2,279.2 578.7,288.3 587.1,275.5 595.5,208.3 604.0,152.7 612.4,141.3 620.8,145.3"/><polyline fill="none" stroke-width="1.45" stroke-linejoin="round" stroke-linecap="round" points="81.3,385.8 89.7,375.2 98.2,364.0 106.6,353.8 115.0,355.5 123.4,340.5 131.9,353.3 140.3,378.7 148.7,363.7 157.2,387.2 165.6,401.0 174.0,407.5 182.5,385.0 190.9,430.8 199.3,409.2 207.8,405.5 216.2,406.3 224.6,405.5 233.0,391.3 241.5,419.2 249.9,383.3 258.3,416.2 266.8,385.0 275.2,391.2 283.6,386.7 292.1,380.7 300.5,381.2 308.9,390.0 317.3,381.2 325.8,416.3 334.2,375.8 342.6,381.7 351.1,379.7 359.5,399.5 367.9,404.2 376.4,433.0 384.8,413.8 393.2,440.5 401.6,422.5 410.1,420.3 418.5,414.4 426.9,402.6 435.4,387.3 443.8,361.8 452.2,336.1 460.6,270.5 469.1,314.3 477.5,333.7 485.9,300.0 494.4,282.7 502.8,278.7 511.2,273.3 519.7,280.3 528.1,279.5 536.5,270.2 544.9,287.5 553.4,265.1 561.8,267.3 570.2,279.2 578.7,288.3 587.1,275.5 595.5,208.3 604.0,152.7 612.4,141.3 620.8,145.3"/><g stroke="none"><circle cx="81.3" cy="385.8" r="1.8"/><circle cx="89.7" cy="375.2" r="1.8"/><circle cx="98.2" cy="364.0" r="1.8"/><circle cx="106.6" cy="353.8" r="1.8"/><circle cx="115.0" cy="355.5" r="1.8"/><circle cx="123.4" cy="340.5" r="1.8"/><circle cx="131.9" cy="353.3" r="1.8"/><circle cx="140.3" cy="378.7" r="1.8"/><circle cx="148.7" cy="363.7" r="1.8"/><circle cx="157.2" cy="387.2" r="1.8"/><circle cx="165.6" cy="401.0" r="1.8"/><circle cx="174.0" cy="407.5" r="1.8"/><circle cx="182.5" cy="385.0" r="1.8"/><circle cx="190.9" cy="430.8" r="1.8"/><circle cx="199.3" cy="409.2" r="1.8"/><circle cx="207.8" cy="405.5" r="1.8"/><circle cx="216.2" cy="406.3" r="1.8"/><circle cx="224.6" cy="405.5" r="1.8"/><circle cx="233.0" cy="391.3" r="1.8"/><circle cx="241.5" cy="419.2" r="1.8"/><circle cx="249.9" cy="383.3" r="1.8"/><circle cx="258.3" cy="416.2" r="1.8"/><circle cx="266.8" cy="385.0" r="1.8"/><circle cx="275.2" cy="391.2" r="1.8"/><circle cx="283.6" cy="386.7" r="1.8"/><circle cx="292.1" cy="380.7" r="1.8"/><circle cx="300.5" cy="381.2" r="1.8"/><circle cx="308.9" cy="390.0" r="1.8"/><circle cx="317.3" cy="381.2" r="1.8"/><circle cx="325.8" cy="416.3" r="1.8"/><circle cx="334.2" cy="375.8" r="1.8"/><circle cx="342.6" cy="381.7" r="1.8"/><circle cx="351.1" cy="379.7" r="1.8"/><circle cx="359.5" cy="399.5" r="1.8"/><circle cx="367.9" cy="404.2" r="1.8"/><circle cx="376.4" cy="433.0" r="1.8"/><circle cx="384.8" cy="413.8" r="1.8"/><circle cx="393.2" cy="440.5" r="1.8"/><circle cx="401.6" cy="422.5" r="1.8"/><circle cx="410.1" cy="420.3" r="1.8"/><circle cx="418.5" cy="414.4" r="1.8"/><circle cx="426.9" cy="402.6" r="1.8"/><circle cx="435.4" cy="387.3" r="1.8"/><circle cx="443.8" cy="361.8" r="1.8"/><circle cx="452.2" cy="336.1" r="1.8"/><circle cx="460.6" cy="270.5" r="1.8"/><circle cx="469.1" cy="314.3" r="1.8"/><circle cx="477.5" cy="333.7" r="1.8"/><circle cx="485.9" cy="300.0" r="1.8"/><circle cx="494.4" cy="282.7" r="1.8"/><circle cx="502.8" cy="278.7" r="1.8"/><circle cx="511.2" cy="273.3" r="1.8"/><circle cx="519.7" cy="280.3" r="1.8"/><circle cx="528.1" cy="279.5" r="1.8"/><circle cx="536.5" cy="270.2" r="1.8"/><circle cx="544.9" cy="287.5" r="1.8"/><circle cx="553.4" cy="265.1" r="1.8"/><circle cx="561.8" cy="267.3" r="1.8"/><circle cx="570.2" cy="279.2" r="1.8"/><circle cx="578.7" cy="288.3" r="1.8"/><circle cx="587.1" cy="275.5" r="1.8"/><circle cx="595.5" cy="208.3" r="1.8"/><circle cx="604.0" cy="152.7" r="1.8"/><circle cx="612.4" cy="141.3" r="1.8"/><circle cx="620.8" cy="145.3" r="1.8"/></g></g>
<g fill="none" stroke="#ccc" stroke-width="1">
<line x1="625.3" x2="641.7" y1="145.3" y2="145.3"/>
<line x1="625.3" x2="641.7" y1="308.5" y2="308.5"/>
<line x1="625.3" x2="641.7" y1="326.2" y2="326.2"/>
<polyline points="625.3,406.8 630.5,406.8 630.5,370 641.7,370"/>
<polyline points="625.3,416 636.5,416 636.5,406.8 641.7,406.8"/>
<polyline points="625.3,418.8 636.5,418.8 636.5,443 641.7,443"/>
<polyline points="625.3,422 630.5,422 630.5,461.5 641.7,461.5"/>
<polyline points="625.3,483.6 633.5,483.6 633.5,480.5 641.7,480.5"/>
<polyline points="625.3,495.6 633.5,495.6 633.5,505.7 641.7,505.7"/>
</g>
<text x="16.6" y="39" font-size="27.5" fill="#2d2d2d" font-weight="bold" style="font-family:&quot;Liberation Serif&quot;,serif" textLength="195.7" lengthAdjust="spacingAndGlyphs">Foreign aid given</text>
<text x="15.7" y="66.4" font-size="15" fill="#555" textLength="24.0" lengthAdjust="spacingAndGlyphs">Net</text>
<text x="44.4" y="66.4" font-size="15" fill="#555" textLength="43.6" lengthAdjust="spacingAndGlyphs">official</text>
<text x="91.4" y="66.4" font-size="15" fill="#555" textLength="85.0" lengthAdjust="spacingAndGlyphs">development</text>
<text x="181.0" y="66.4" font-size="15" fill="#555" textLength="66.9" lengthAdjust="spacingAndGlyphs">assistance</text>
<text x="251.5" y="66.4" font-size="15" fill="#555" textLength="41.7" lengthAdjust="spacingAndGlyphs">(ODA)</text>
<text x="297.5" y="66.4" font-size="15" fill="#555" textLength="29.1" lengthAdjust="spacingAndGlyphs">from</text>
<text x="331.4" y="66.4" font-size="15" fill="#555" textLength="85.3" lengthAdjust="spacingAndGlyphs">governments</text>
<text x="421.4" y="66.4" font-size="15" fill="#555" textLength="23.8" lengthAdjust="spacingAndGlyphs">and</text>
<text x="449.0" y="66.4" font-size="15" fill="#555" textLength="74.4" lengthAdjust="spacingAndGlyphs">multilateral</text>
<text x="526.8" y="66.4" font-size="15" fill="#555" textLength="92.5" lengthAdjust="spacingAndGlyphs">organizations,</text>
<text x="622.4" y="66.4" font-size="15" fill="#555" textLength="40.5" lengthAdjust="spacingAndGlyphs">grants</text>
<text x="667.0" y="66.4" font-size="15" fill="#555" textLength="30.5" lengthAdjust="spacingAndGlyphs">from</text>
<text x="701.4" y="66.4" font-size="15" fill="#555" textLength="26.6" lengthAdjust="spacingAndGlyphs">civil</text>
<text x="16.2" y="84.5" font-size="15" fill="#555" textLength="45.8" lengthAdjust="spacingAndGlyphs">society</text>
<text x="66.0" y="84.5" font-size="15" fill="#555" textLength="91.9" lengthAdjust="spacingAndGlyphs">organizations.</text>
<text x="161.7" y="84.5" font-size="15" fill="#555" textLength="26.8" lengthAdjust="spacingAndGlyphs">This</text>
<text x="192.4" y="84.5" font-size="15" fill="#555" textLength="27.5" lengthAdjust="spacingAndGlyphs">data</text>
<text x="224.1" y="84.5" font-size="15" fill="#555" textLength="10.4" lengthAdjust="spacingAndGlyphs">is</text>
<text x="238.2" y="84.5" font-size="15" fill="#555" textLength="66.2" lengthAdjust="spacingAndGlyphs">expressed</text>
<text x="308.2" y="84.5" font-size="15" fill="#555" textLength="12.4" lengthAdjust="spacingAndGlyphs">in</text>
<text x="324.4" y="84.5" font-size="15" fill="#555" textLength="18.6" lengthAdjust="spacingAndGlyphs">US</text>
<text x="347.1" y="84.5" font-size="15" fill="#555" textLength="43.4" lengthAdjust="spacingAndGlyphs">dollars</text>
<text x="394.4" y="84.5" font-size="15" fill="#555" textLength="23.8" lengthAdjust="spacingAndGlyphs">and</text>
<text x="422.4" y="84.5" font-size="15" fill="#555" textLength="56.3" lengthAdjust="spacingAndGlyphs">adjusted</text>
<text x="483.5" y="84.5" font-size="15" fill="#555" textLength="17.1" lengthAdjust="spacingAndGlyphs">for</text>
<text x="505.0" y="84.5" font-size="15" fill="#555" textLength="58.4" lengthAdjust="spacingAndGlyphs">inflation.</text>
<text x="16.2" y="560.8" font-size="13" fill="#616161" font-weight="bold" textLength="28.0" lengthAdjust="spacingAndGlyphs">Data</text>
<text x="47.2" y="560.8" font-size="13" fill="#616161" font-weight="bold" textLength="40.8" lengthAdjust="spacingAndGlyphs">source:</text>
<text x="91.8" y="560.8" font-size="13" fill="#616161" textLength="35.7" lengthAdjust="spacingAndGlyphs">OECD</text>
<text x="131.2" y="560.8" font-size="13" fill="#616161" textLength="38.2" lengthAdjust="spacingAndGlyphs">(2025)</text>
<text x="599.8" y="560.8" font-size="13" fill="#616161" textLength="185.0" lengthAdjust="spacingAndGlyphs">OurWorldinData.org/foreign-aid</text>
<text x="787.1" y="560.8" font-size="13" fill="#616161" textLength="3.4" lengthAdjust="spacingAndGlyphs">|</text>
<text x="793.8" y="560.8" font-size="13" fill="#616161" textLength="17.7" lengthAdjust="spacingAndGlyphs">CC</text>
<text x="815.1" y="560.8" font-size="13" fill="#616161" textLength="15.8" lengthAdjust="spacingAndGlyphs">BY</text>
<text x="16.2" y="580.9" font-size="13" fill="#616161" font-weight="bold" textLength="32.2" lengthAdjust="spacingAndGlyphs">Note:</text>
<text x="51.5" y="580.9" font-size="13" fill="#616161" textLength="22.2" lengthAdjust="spacingAndGlyphs">This</text>
<text x="78.1" y="580.9" font-size="13" fill="#616161" textLength="23.4" lengthAdjust="spacingAndGlyphs">data</text>
<text x="104.5" y="580.9" font-size="13" fill="#616161" textLength="8.6" lengthAdjust="spacingAndGlyphs">is</text>
<text x="118.1" y="580.9" font-size="13" fill="#616161" textLength="57.7" lengthAdjust="spacingAndGlyphs">expressed</text>
<text x="179.2" y="580.9" font-size="13" fill="#616161" textLength="9.5" lengthAdjust="spacingAndGlyphs">in</text>
<text x="192.5" y="580.9" font-size="13" fill="#616161" textLength="48.6" lengthAdjust="spacingAndGlyphs">constant</text>
<text x="245.3" y="580.9" font-size="13" fill="#616161" textLength="29.2" lengthAdjust="spacingAndGlyphs">2023</text>
<text x="278.5" y="580.9" font-size="13" fill="#616161" textLength="27.6" lengthAdjust="spacingAndGlyphs">US$.</text>
<text x="309.0" y="580.9" font-size="13" fill="#616161" textLength="29.8" lengthAdjust="spacingAndGlyphs">From</text>
<text x="342.5" y="580.9" font-size="13" fill="#616161" textLength="34.2" lengthAdjust="spacingAndGlyphs">2018,</text>
<text x="379.4" y="580.9" font-size="13" fill="#616161" textLength="18.5" lengthAdjust="spacingAndGlyphs">the</text>
<text x="400.5" y="580.9" font-size="13" fill="#616161" textLength="38.2" lengthAdjust="spacingAndGlyphs">official</text>
<text x="441.5" y="580.9" font-size="13" fill="#616161" textLength="52.9" lengthAdjust="spacingAndGlyphs">reporting</text>
<text x="497.7" y="580.9" font-size="13" fill="#616161" textLength="44.1" lengthAdjust="spacingAndGlyphs">method</text>
<text x="545.1" y="580.9" font-size="13" fill="#616161" textLength="51.2" lengthAdjust="spacingAndGlyphs">switched</text>
<text x="599.7" y="580.9" font-size="13" fill="#616161" textLength="26.6" lengthAdjust="spacingAndGlyphs">from</text>
<text x="629.1" y="580.9" font-size="13" fill="#616161" textLength="18.3" lengthAdjust="spacingAndGlyphs">net</text>
<text x="651.8" y="580.9" font-size="13" fill="#616161" textLength="11.2" lengthAdjust="spacingAndGlyphs">to</text>
<text x="666.9" y="580.9" font-size="13" fill="#616161" textLength="93.2" lengthAdjust="spacingAndGlyphs">grant-equivalent</text>
<text x="764.1" y="580.9" font-size="13" fill="#616161" textLength="53.0" lengthAdjust="spacingAndGlyphs">amounts.</text>
<text x="61.9" y="513.8" font-size="13" fill="#666" textLength="14.6" lengthAdjust="spacingAndGlyphs">$0</text>
<text x="16.6" y="457.3" font-size="13" fill="#666" textLength="22.0" lengthAdjust="spacingAndGlyphs">$10</text>
<text x="41.8" y="457.3" font-size="13" fill="#666" textLength="35.1" lengthAdjust="spacingAndGlyphs">billion</text>
<text x="16.6" y="400.1" font-size="13" fill="#666" textLength="22.0" lengthAdjust="spacingAndGlyphs">$20</text>
<text x="41.8" y="400.1" font-size="13" fill="#666" textLength="35.1" lengthAdjust="spacingAndGlyphs">billion</text>
<text x="16.6" y="343.0" font-size="13" fill="#666" textLength="22.0" lengthAdjust="spacingAndGlyphs">$30</text>
<text x="41.8" y="343.0" font-size="13" fill="#666" textLength="35.1" lengthAdjust="spacingAndGlyphs">billion</text>
<text x="16.6" y="285.8" font-size="13" fill="#666" textLength="22.0" lengthAdjust="spacingAndGlyphs">$40</text>
<text x="41.8" y="285.8" font-size="13" fill="#666" textLength="35.1" lengthAdjust="spacingAndGlyphs">billion</text>
<text x="16.6" y="228.7" font-size="13" fill="#666" textLength="22.0" lengthAdjust="spacingAndGlyphs">$50</text>
<text x="41.8" y="228.7" font-size="13" fill="#666" textLength="35.1" lengthAdjust="spacingAndGlyphs">billion</text>
<text x="16.6" y="171.6" font-size="13" fill="#666" textLength="22.0" lengthAdjust="spacingAndGlyphs">$60</text>
<text x="41.8" y="171.6" font-size="13" fill="#666" textLength="35.1" lengthAdjust="spacingAndGlyphs">billion</text>
<text x="16.6" y="114.4" font-size="13" fill="#666" textLength="22.0" lengthAdjust="spacingAndGlyphs">$70</text>
<text x="41.8" y="114.4" font-size="13" fill="#666" textLength="35.1" lengthAdjust="spacingAndGlyphs">billion</text>
<text x="81.6" y="530.5" font-size="13" fill="#666" textLength="30.9" lengthAdjust="spacingAndGlyphs">1960</text>
<text x="150.6" y="530.5" font-size="13" fill="#666" textLength="30.6" lengthAdjust="spacingAndGlyphs">1970</text>
<text x="234.9" y="530.5" font-size="13" fill="#666" textLength="30.6" lengthAdjust="spacingAndGlyphs">1980</text>
<text x="319.2" y="530.5" font-size="13" fill="#666" textLength="30.6" lengthAdjust="spacingAndGlyphs">1990</text>
<text x="403.8" y="530.5" font-size="13" fill="#666" textLength="30.3" lengthAdjust="spacingAndGlyphs">2000</text>
<text x="488.1" y="530.5" font-size="13" fill="#666" textLength="30.3" lengthAdjust="spacingAndGlyphs">2010</text>
<text x="590.3" y="530.5" font-size="13" fill="#666" textLength="30.2" lengthAdjust="spacingAndGlyphs">2024</text>
<text x="773.4" y="30.6" font-size="12.4" fill="#fff" font-weight="bold" textLength="55.9" lengthAdjust="spacingAndGlyphs">Our World</text>
<text x="783.2" y="42.6" font-size="12.4" fill="#fff" font-weight="bold" textLength="36.7" lengthAdjust="spacingAndGlyphs">in Data</text>
<text x="645.7" y="149.9" font-size="12.4" fill="#6D3E91" textLength="77.2" lengthAdjust="spacingAndGlyphs">United States</text>
<text x="645.6" y="313.3" font-size="12.4" fill="#4C6A9C" textLength="84.8" lengthAdjust="spacingAndGlyphs">EU institutions</text>
<text x="646.1" y="330.6" font-size="12.4" fill="#B13507" textLength="51.0" lengthAdjust="spacingAndGlyphs">Germany</text>
<text x="646.6" y="375.3" font-size="12.4" fill="#883039" textLength="105.9" lengthAdjust="spacingAndGlyphs">World Bank Group</text>
<text x="645.6" y="393.5" font-size="12.4" fill="#00295B" textLength="113.0" lengthAdjust="spacingAndGlyphs">Non-DAC countries</text>
<text x="646.1" y="407" font-size="11" fill="#444" textLength="101.2" lengthAdjust="spacingAndGlyphs">Qatar, Saudi Arabia,</text>
<text x="646.4" y="419" font-size="11" fill="#444" textLength="103.0" lengthAdjust="spacingAndGlyphs">Turkey, UAE, among</text>
<text x="646.1" y="430.5" font-size="11" fill="#444" textLength="32.5" lengthAdjust="spacingAndGlyphs">others</text>
<text x="646.0" y="447.9" font-size="12.4" fill="#996D39" textLength="33.0" lengthAdjust="spacingAndGlyphs">Japan</text>
<text x="645.4" y="466.4" font-size="12.4" fill="#2C8465" textLength="93.7" lengthAdjust="spacingAndGlyphs">United Kingdom</text>
<text x="645.8" y="484.9" font-size="12.4" fill="#9A5129" textLength="101.7" lengthAdjust="spacingAndGlyphs">Gates Foundation</text>
<text x="645.8" y="503.4" font-size="12.4" fill="#A2559C" textLength="180.8" lengthAdjust="spacingAndGlyphs">Global Alliance for Vaccines and</text>
<text x="645.2" y="517.5" font-size="12.4" fill="#A2559C" textLength="78.4" lengthAdjust="spacingAndGlyphs">Immunization</text>

</svg>
</body></html>
